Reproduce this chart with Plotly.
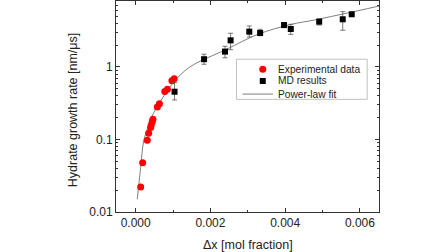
import plotly.graph_objects as go

# Experimental data (red circles)
exp_x = [1.34e-4, 1.87e-4, 3.10e-4, 3.47e-4, 4.0e-4, 4.16e-4, 4.43e-4, 4.62e-4,
         5.8e-4, 6.35e-4, 7.8e-4, 8.5e-4, 9.7e-4, 1.03e-3]
exp_y = [0.0221, 0.0478, 0.0975, 0.122, 0.146, 0.158, 0.176, 0.190,
         0.281, 0.312, 0.46, 0.495, 0.645, 0.687]

# MD results (black squares with error bars)
md_x = [1.04e-3, 1.83e-3, 2.39e-3, 2.54e-3, 3.04e-3, 3.33e-3, 3.97e-3, 4.15e-3, 4.91e-3, 5.54e-3, 5.78e-3]
md_y = [0.456, 1.28, 1.63, 2.33, 3.07, 2.94, 3.79, 3.34, 4.22, 4.55, 5.33]
md_hi = [0.607, 1.50, 1.93, 2.92, 3.68, 3.31, 4.05, 3.88, 4.59, 5.80, 5.5]
md_lo = [0.351, 1.09, 1.34, 1.73, 2.59, 2.70, 3.48, 2.82, 3.79, 3.21, 5.15]

# Power-law fit curve
fit_x = [4.3e-5, 1.34e-4, 2.14e-4, 3.28e-4, 4.62e-4, 6.41e-4, 1.004e-3, 1.45e-3,
         2.43e-3, 3.27e-3, 4.17e-3, 4.79e-3, 6.52e-3]
fit_y = [0.015, 0.041, 0.095, 0.146, 0.223, 0.322, 0.607, 1.0,
         1.75, 2.82, 3.88, 4.45, 6.94]

x_ticks = [0.0, 0.002, 0.004, 0.006]
x_ticktext = ["0.000", "0.002", "0.004", "0.006"]
y_ticks = [0.01, 0.1, 1]
y_ticktext = ["0.01", "0.1", "1"]
x_title = "Δx [mol fraction]"
y_title = "Hydrate growth rate [nm/μs]"
legend_names = ["Experimental data", "MD results", "Power-law fit"]

RED = "#ff0000"
BLACK = "#000000"
FITC = "#7f7f7f"
TXT = "#222222"

err_plus = [h - y for h, y in zip(md_hi, md_y)]
err_minus = [y - l for y, l in zip(md_y, md_lo)]

FONT = "Liberation Sans, Arial, sans-serif"

fig = go.Figure()
fig.add_trace(go.Scatter(
    x=fit_x, y=fit_y, mode="lines", name=legend_names[2],
    line=dict(color=FITC, width=1, shape="spline"), showlegend=False))
fig.add_trace(go.Scatter(
    x=exp_x, y=exp_y, mode="markers", name=legend_names[0],
    marker=dict(color=RED, size=7, symbol="circle"), showlegend=False))
fig.add_trace(go.Scatter(
    x=md_x, y=md_y, mode="markers", name=legend_names[1],
    marker=dict(color=BLACK, size=6, symbol="square"),
    error_y=dict(type="data", symmetric=False, array=err_plus, arrayminus=err_minus,
                 color="#555555", thickness=0.8, width=2.5),
    showlegend=False))

minor_y = [m * d for d in (0.01, 0.1, 1) for m in range(2, 10)]

# custom compact legend (paper coordinates)
lg_box = dict(x0=0.458, x1=0.955, y0=0.534, y1=0.724)
lg_sym_x = 0.558
lg_rows = [0.676, 0.621, 0.559]
lg_text_x = 0.610

shapes = [
    dict(type="rect", xref="paper", yref="paper", **lg_box,
         line=dict(color="#c0c0c0", width=1), fillcolor="white", layer="above"),
    dict(type="circle", xref="paper", yref="paper", xsizemode="pixel", ysizemode="pixel",
         xanchor=lg_sym_x, yanchor=lg_rows[0], x0=-3.5, x1=3.5, y0=-3.5, y1=3.5,
         fillcolor=RED, line=dict(width=0), layer="above"),
    dict(type="rect", xref="paper", yref="paper", xsizemode="pixel", ysizemode="pixel",
         xanchor=lg_sym_x, yanchor=lg_rows[1], x0=-3, x1=3, y0=-3, y1=3,
         fillcolor=BLACK, line=dict(width=0), layer="above"),
    dict(type="line", xref="paper", yref="paper", x0=0.481, x1=0.597,
         y0=lg_rows[2], y1=lg_rows[2], line=dict(color=FITC, width=1), layer="above"),
]

annotations = [
    dict(text=x_title, xref="paper", yref="paper", x=0.5, y=-0.156,
         xanchor="center", yanchor="middle", showarrow=False,
         font=dict(size=12.5, color=TXT)),
    dict(text=y_title, xref="paper", yref="paper", x=-0.163, y=0.483,
         xanchor="center", yanchor="middle", showarrow=False, textangle=-90,
         font=dict(size=12.5, color=TXT)),
]
for name, yy in zip(legend_names, lg_rows):
    annotations.append(dict(text=name, xref="paper", yref="paper", x=lg_text_x, y=yy,
                            xanchor="left", yanchor="middle", showarrow=False,
                            font=dict(size=10.2, color=TXT)))

fig.update_layout(
    width=448, height=252,
    margin=dict(l=116, r=68.5, t=1, b=40),
    paper_bgcolor="white", plot_bgcolor="white",
    font=dict(family=FONT, size=12, color=TXT),
    showlegend=False,
    xaxis=dict(range=[-0.000526, 0.00651], showline=True, linecolor="#333333", linewidth=1,
               mirror="ticks", ticks="inside", ticklen=4, tickcolor="#333333",
               tickmode="array", tickvals=x_ticks, ticktext=x_ticktext,
               minor=dict(ticks="inside", ticklen=2, dtick=0.001, tick0=0, tickcolor="#333333"),
               showgrid=False, zeroline=False, automargin=False),
    yaxis=dict(type="log", range=[-2, 0.910], showline=True, linecolor="#333333", linewidth=1,
               mirror="ticks", ticks="inside", ticklen=4, tickcolor="#333333",
               tickmode="array", tickvals=y_ticks, ticktext=y_ticktext,
               minor=dict(ticks="inside", ticklen=2, tickvals=minor_y, tickcolor="#333333"),
               showgrid=False, zeroline=False, automargin=False),
    shapes=shapes,
    annotations=annotations,
)

fig.write_html("out.html", config={"displayModeBar": False},
               post_script="document.body.style.margin='0';")
